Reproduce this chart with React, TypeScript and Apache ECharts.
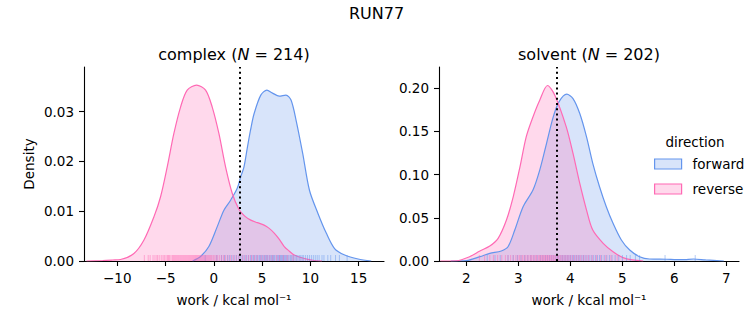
import React, { useEffect, useRef } from "react";
import * as echarts from "echarts";

// ---- data ----
const complexReverseX = [-13.2, -11.5, -10.5, -9.67, -8.28, -7.24, -6.2, -5.52, -4.83, -4.14, -3.45, -2.76, -1.79, -0.86, -0.17, 0.52, 1.21, 1.9, 2.59, 3.2, 3.82, 4.5, 5.2, 5.7, 6.25, 6.8, 7.29, 7.8, 8.33, 9.38, 10.4, 11.2];
const complexReverseD = [0, 0.0001, 0.0002, 0.0003, 0.0015, 0.0042, 0.0089, 0.0129, 0.0189, 0.0256, 0.0309, 0.0343, 0.0353, 0.0343, 0.0309, 0.0256, 0.0189, 0.0136, 0.0104, 0.009, 0.0082, 0.0077, 0.0072, 0.0066, 0.0056, 0.0043, 0.0029, 0.002, 0.0012, 0.0005, 0.0001, 0];
const complexForwardX = [-2.2, -1.38, -0.52, 0.35, 1.04, 1.73, 2.42, 2.78, 3.12, 3.48, 3.8, 4.17, 4.86, 5.49, 6.08, 6.77, 7.47, 7.99, 8.51, 9.2, 9.9, 10.77, 11.64, 12.5, 13.55, 14.94, 16.3];
const complexForwardD = [0, 0.0009, 0.0029, 0.0069, 0.0102, 0.0122, 0.0146, 0.0169, 0.0189, 0.0229, 0.0263, 0.0296, 0.0333, 0.0343, 0.0337, 0.0331, 0.0333, 0.0323, 0.0283, 0.0216, 0.0142, 0.0096, 0.0056, 0.0025, 0.0012, 0.0004, 0];

const solventReverseX = [1.5, 1.81, 2.06, 2.26, 2.45, 2.61, 2.77, 2.9, 3.03, 3.15, 3.28, 3.41, 3.56, 3.7, 3.92, 4.05, 4.18, 4.31, 4.43, 4.63, 4.82, 5.01, 5.2, 5.4];
const solventReverseD = [0, 0.0003, 0.005, 0.0116, 0.0173, 0.0262, 0.0474, 0.0743, 0.109, 0.1437, 0.1668, 0.1861, 0.2032, 0.192, 0.1553, 0.1245, 0.0898, 0.059, 0.0358, 0.0205, 0.0108, 0.0039, 0.0012, 0];
const solventForwardX = [1.7, 2.0, 2.26, 2.45, 2.67, 2.8, 2.93, 3.09, 3.28, 3.41, 3.54, 3.67, 3.78, 3.93, 4.05, 4.18, 4.31, 4.43, 4.56, 4.69, 4.82, 4.98, 5.14, 5.33, 5.52, 5.85, 6.04, 6.2, 6.37, 6.6, 6.95];
const solventForwardD = [0, 0.0005, 0.005, 0.0089, 0.0116, 0.0165, 0.0358, 0.0628, 0.0821, 0.1052, 0.136, 0.1668, 0.1842, 0.1931, 0.188, 0.1707, 0.1437, 0.113, 0.0859, 0.0628, 0.0436, 0.0243, 0.0127, 0.005, 0.0023, 0.002, 0.0015, 0.0017, 0.0023, 0.0012, 0];

const complexReverseRug = [-7.2, -6.8, -6.6, -6.3, -6.1, -5.9, -5.8, -5.6, -5.4, -5.25, -5.1, -4.95, -4.8, -4.7, -4.6, -4.45, -4.3, -4.2, -4.1, -4.0, -3.9, -3.8, -3.7, -3.6, -3.5, -3.4, -3.3, -3.2, -3.1, -3.0, -2.9, -2.8, -2.7, -2.6, -2.5, -2.4, -2.3, -2.2, -2.1, -2.0, -1.9, -1.8, -1.7, -1.6, -1.5, -1.4, -1.3, -1.2, -1.1, -1.0, -0.9, -0.8, -0.7, -0.6, -0.5, -0.4, -0.3, -0.2, -0.05, 0.1, 0.25, 0.4, 0.6, 0.8, 1.0, 1.2, 1.45, 1.7, 2.0, 2.3, 2.6, 3.0, 3.3, 3.6, 3.9, 4.2, 4.5, 4.9, 5.2, 5.5, 5.8, 6.1, 6.5, 6.8, 7.2, 7.6, 8.2];
const complexForwardRug = [-0.9, 0.3, 0.8, 1.1, 1.4, 1.6, 1.85, 2.1, 2.35, 2.6, 2.8, 3.0, 3.2, 3.4, 3.6, 3.8, 3.95, 4.1, 4.25, 4.4, 4.55, 4.7, 4.8, 4.9, 5.05, 5.2, 5.3, 5.4, 5.5, 5.6, 5.75, 5.9, 6.0, 6.1, 6.2, 6.3, 6.45, 6.6, 6.7, 6.8, 6.9, 7.0, 7.1, 7.2, 7.3, 7.4, 7.5, 7.6, 7.75, 7.9, 8.0, 8.1, 8.25, 8.4, 8.55, 8.7, 8.85, 9.0, 9.15, 9.3, 9.5, 9.7, 9.9, 10.1, 10.3, 10.5, 10.7, 10.9, 11.2, 11.4, 11.8, 12.1, 12.6, 13.0, 13.8];
const solventReverseRug = [2.25, 2.35, 2.45, 2.52, 2.6, 2.68, 2.75, 2.8, 2.85, 2.9, 2.95, 2.99, 3.02, 3.05, 3.08, 3.11, 3.14, 3.17, 3.2, 3.23, 3.25, 3.28, 3.3, 3.33, 3.35, 3.38, 3.4, 3.42, 3.44, 3.46, 3.48, 3.5, 3.52, 3.54, 3.56, 3.58, 3.6, 3.62, 3.64, 3.66, 3.68, 3.7, 3.72, 3.75, 3.77, 3.8, 3.82, 3.85, 3.88, 3.91, 3.94, 3.97, 4.0, 4.04, 4.08, 4.12, 4.16, 4.2, 4.25, 4.3, 4.35, 4.42, 4.5, 4.58, 4.68, 4.78, 4.9];
const solventForwardRug = [2.4, 2.55, 2.65, 2.8, 2.9, 2.98, 3.05, 3.12, 3.18, 3.24, 3.3, 3.36, 3.42, 3.47, 3.52, 3.56, 3.6, 3.64, 3.68, 3.72, 3.75, 3.78, 3.82, 3.85, 3.88, 3.91, 3.94, 3.97, 4.0, 4.03, 4.06, 4.09, 4.12, 4.15, 4.18, 4.22, 4.25, 4.28, 4.32, 4.36, 4.4, 4.44, 4.48, 4.52, 4.56, 4.6, 4.65, 4.7, 4.75, 4.8, 4.86, 4.93, 5.0, 5.08, 5.15, 5.25, 5.33, 5.82, 6.4];

const complexXTicks = [-10, -5, 0, 5, 10, 15];
const complexYTicks = [0, 0.01, 0.02, 0.03];
const solventXTicks = [2, 3, 4, 5, 6, 7];
const solventYTicks = [0, 0.05, 0.1, 0.15, 0.2];

const complexMean = 2.68;
const solventMean = 3.73;

const suptitle = "RUN77";
const directions = ["forward", "reverse"];

// ---- styles ----
const FONT = "DejaVu Sans";
const BLUE = "#6495ED";
const PINK = "#FF69B4";
const BLUE_FILL = "rgba(100,149,237,0.25)";
const PINK_FILL = "rgba(255,105,180,0.25)";
const BLUE_RUG = "rgba(100,149,237,0.6)";
const PINK_RUG = "rgba(255,105,180,0.6)";

const pairs = (xs: number[], ys: number[]) => xs.map((x, i) => [x, ys[i]]);
const minus = (v: number, d: number) => {
  const s = Math.abs(v).toFixed(d);
  return v < 0 ? "\u2212" + s : s;
};

function xAxis(gridIndex: number, min: number, max: number, ticks: number[], dec: number) {
  return {
    type: "value",
    gridIndex,
    min,
    max,
    name: "work / kcal mol\u207B\u00B9",
    nameLocation: "middle",
    nameGap: 32,
    nameTextStyle: { fontFamily: FONT, fontSize: 13.5, color: "#000" },
    axisLine: { show: true, onZero: false, lineStyle: { color: "#000", width: 1.1 } },
    axisTick: { show: true, inside: false, length: 5, customValues: ticks, lineStyle: { color: "#000", width: 1.1 } },
    axisLabel: {
      show: true,
      customValues: ticks,
      margin: 10,
      fontFamily: FONT,
      fontSize: 13.5,
      color: "#000",
      formatter: (v: number) => minus(v, dec),
    },
    splitLine: { show: false },
  };
}

function yAxis(gridIndex: number, max: number, ticks: number[], withName: boolean) {
  return {
    type: "value",
    gridIndex,
    min: 0,
    max,
    name: withName ? "Density" : "",
    nameLocation: "middle",
    nameGap: 48,
    nameTextStyle: { fontFamily: FONT, fontSize: 13.5, color: "#000" },
    axisLine: { show: true, onZero: false, lineStyle: { color: "#000", width: 1.1 } },
    axisTick: { show: true, inside: false, length: 5, customValues: ticks, lineStyle: { color: "#000", width: 1.1 } },
    axisLabel: {
      show: true,
      customValues: ticks,
      margin: 10,
      fontFamily: FONT,
      fontSize: 13.5,
      color: "#000",
      formatter: (v: number) => v.toFixed(2),
    },
    splitLine: { show: false },
  };
}

function kde(name: string, idx: number, xs: number[], ys: number[], color: string, fill: string, mean?: number) {
  const s: any = {
    type: "line",
    name,
    xAxisIndex: idx,
    yAxisIndex: idx,
    data: pairs(xs, ys),
    smooth: 0.3,
    showSymbol: false,
    symbol: "none",
    lineStyle: { color, width: 1.2 },
    itemStyle: { color: fill, borderColor: color },
    areaStyle: { color: fill, opacity: 1 },
    z: 2,
  };
  if (mean !== undefined) {
    s.markLine = {
      silent: true,
      symbol: ["none", "none"],
      label: { show: false },
      lineStyle: { color: "#000", type: [2, 3.2], width: 2 },
      data: [{ xAxis: mean }],
      z: 5,
    };
  }
  return s;
}

function rug(name: string, idx: number, xs: number[], color: string) {
  return {
    type: "scatter",
    name,
    xAxisIndex: idx,
    yAxisIndex: idx,
    data: xs.map((x) => [x, 0]),
    symbol: "rect",
    symbolSize: [1, 6],
    symbolOffset: [0, -3],
    itemStyle: { color },
    z: 3,
    silent: true,
  };
}

export default function App() {
  const ref = useRef<HTMLDivElement>(null);
  useEffect(() => {
    document.body.style.margin = "0";
    const chart = echarts.init(ref.current!, null, { renderer: "svg" });
    const option: any = {
      animation: false,
      backgroundColor: "#fff",
      textStyle: { fontFamily: FONT },
      grid: [
        { left: 84, top: 67, width: 300, height: 194, containLabel: false },
        { left: 439, top: 67, width: 300, height: 194, containLabel: false },
      ],
      xAxis: [xAxis(0, -13.45, 17.62, complexXTicks, 0), xAxis(1, 1.473, 7.242, solventXTicks, 0)],
      yAxis: [yAxis(0, 0.03894, complexYTicks, true), yAxis(1, 0.2246, solventYTicks, false)],
      legend: {
        show: true,
        orient: "vertical",
        left: 649,
        top: 152,
        itemWidth: 27,
        itemHeight: 10,
        itemGap: 11,
        selectedMode: false,
        textStyle: { fontFamily: FONT, fontSize: 13.5, color: "#000", padding: [0, 0, 0, 6] },
        data: [
          { name: directions[0], icon: "rect", itemStyle: { color: BLUE_FILL, borderColor: BLUE, borderWidth: 1.2 } },
          { name: directions[1], icon: "rect", itemStyle: { color: PINK_FILL, borderColor: PINK, borderWidth: 1.2 } },
        ],
      },
      graphic: [
        { type: "text", x: 376.5, y: 13, style: { text: suptitle, align: "center", verticalAlign: "middle", fontFamily: FONT, fontSize: 16, fill: "#000" } },
        {
          type: "text",
          x: 234,
          y: 54,
          style: {
            text: "complex ({i|N} = 214)",
            align: "center",
            verticalAlign: "middle",
            fontFamily: FONT,
            fontSize: 16,
            fill: "#000",
            rich: { i: { fontFamily: FONT, fontSize: 16, fontStyle: "italic", fill: "#000" } },
          },
        },
        {
          type: "text",
          x: 589,
          y: 54,
          style: {
            text: "solvent ({i|N} = 202)",
            align: "center",
            verticalAlign: "middle",
            fontFamily: FONT,
            fontSize: 16,
            fill: "#000",
            rich: { i: { fontFamily: FONT, fontSize: 16, fontStyle: "italic", fill: "#000" } },
          },
        },
        { type: "text", x: 695, y: 142, style: { text: "direction", align: "center", verticalAlign: "middle", fontFamily: FONT, fontSize: 13.5, fill: "#000" } },
      ],
      series: [
        kde(directions[0], 0, complexForwardX, complexForwardD, BLUE, BLUE_FILL, complexMean),
        kde(directions[1], 0, complexReverseX, complexReverseD, PINK, PINK_FILL),
        kde(directions[0], 1, solventForwardX, solventForwardD, BLUE, BLUE_FILL, solventMean),
        kde(directions[1], 1, solventReverseX, solventReverseD, PINK, PINK_FILL),
        rug("complex forward rug", 0, complexForwardRug, BLUE_RUG),
        rug("complex reverse rug", 0, complexReverseRug, PINK_RUG),
        rug("solvent forward rug", 1, solventForwardRug, BLUE_RUG),
        rug("solvent reverse rug", 1, solventReverseRug, PINK_RUG),
      ],
    };
    chart.setOption(option);
    return () => chart.dispose();
  }, []);
  return <div ref={ref} style={{ position: "absolute", left: 0, top: 0, width: 753, height: 325 }} />;
}
